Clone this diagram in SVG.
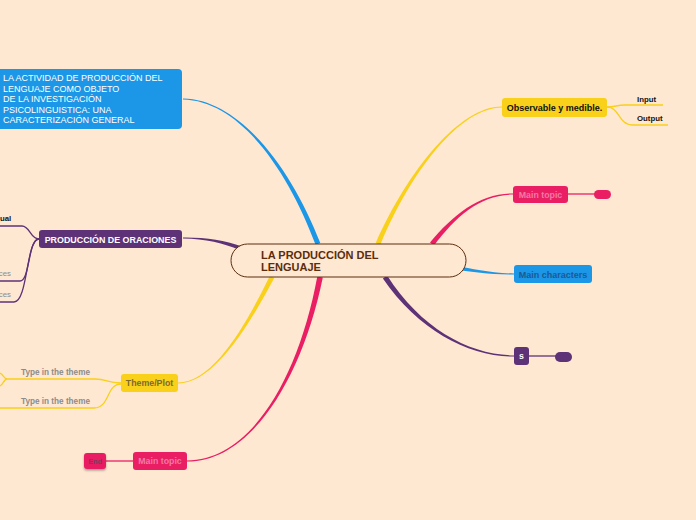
<svg xmlns="http://www.w3.org/2000/svg" width="696" height="520" viewBox="0 0 696 520">
<defs>
<style>
.t{font-family:"Liberation Sans",Arial,sans-serif;font-weight:bold}
.sub{fill:none;stroke-width:1.3}
.y{fill:#f9d01a}.ys{stroke:#f9d01a}
.p{fill:#5d3277}.ps{stroke:#5d3277}
.r{fill:#e91e63}.rs{stroke:#e91e63}
.b{fill:#1c96e6}.bs{stroke:#1c96e6}
</style>
<filter id="sh" x="-30%" y="-30%" width="160%" height="180%"><feDropShadow dx="0" dy="1.5" stdDeviation="1.2" flood-color="#000" flood-opacity="0.35"/></filter>
</defs>
<rect width="696" height="520" fill="#fee8d2"/>
<g id="connectors">
<path class="b" d="M183,98.4 C240,99.2 291.9,169.3 320.3,243.1 L315.7,244.9 C288.1,170.7 240,100.8 183,99.6 Z"/>
<path class="p" d="M183,237.5 C205,237.2 225.6,240.6 240.7,246.1 L239.3,249.9 C224.4,243.4 205,238.8 183,238.5 Z"/>
<path class="y" d="M178,382.4 C215,382.2 248.5,319.2 269.8,275.9 L274.2,278.1 C251.5,320.8 215,383.8 178,383.6 Z"/>
<path class="r" d="M187,460.4 C250,460.2 298.2,379.7 317.3,276.5 L322.8,277.5 C301.8,380.3 250,461.8 187,461.6 Z"/>
<path class="y" d="M502,107.6 C460,107.8 411.5,170.6 380.3,245 L375.7,243 C408.5,169.4 460,106.2 502,106.4 Z"/>
<path class="r" d="M513,194.6 C480,194.8 456.2,215.9 434,245.6 L430,242.4 C453.8,214.1 480,193.2 513,193.4 Z"/>
<path class="b" d="M514,274.5 C490,274.8 472,271.5 455.8,270 L456.3,266 C472,268.5 490,273.2 514,273.5 Z"/>
<path class="p" d="M514,356.6 C470,356.8 418.7,330.9 382.9,278.4 L387.1,275.6 C421.3,329.1 470,355.2 514,355.4 Z"/>
<path class="sub ps" d="M39,239 C30,239 30,226 22,226 L0,226"/>
<path class="sub ps" d="M39,239 C28,239 30,281 20,281 L0,281"/>
<path class="sub ps" d="M39,239 C26,239 28,302 14,302 L0,302"/>
<path class="sub ys" d="M121,383 C106,383 108,379 95,379 L7,379"/>
<path class="sub ys" d="M7,379 C4,379 3,374 0,373"/>
<path class="sub ys" d="M7,379 C4,379 3,385 0,386"/>
<path class="sub ys" d="M121,384 C106,384 110,408 94,408 L0,408"/>
<path class="sub ys" d="M607,107 C616,107 616,105 625,105 L663,105"/>
<path class="sub ys" d="M607,107 C620,107 618,125 633,125 L668,125"/>
<path class="sub rs" d="M568,194 L596,194"/>
<path class="sub ps" d="M529,356 L557,356"/>
<path class="sub rs" d="M106,461 L133,461"/>
</g>
<g id="center">
<rect x="231" y="244" width="235" height="33" rx="16.5" fill="#fee8d2" stroke="#5a2d0c" stroke-width="1"/>
<text class="t" x="261" y="259" font-size="11" fill="#5a2d0c">LA PRODUCCIÓN DEL</text>
<text class="t" x="261" y="271" font-size="11" fill="#5a2d0c">LENGUAJE</text>
</g>
<g id="n-actividad">
<rect x="-6" y="69" width="188" height="60" rx="4" class="b"/>
<text x="3" y="81" font-size="9" fill="#fff" font-family="Liberation Sans,Arial,sans-serif">
<tspan x="3" y="81">LA ACTIVIDAD DE PRODUCCIÓN DEL</tspan>
<tspan x="3" y="91.5">LENGUAJE COMO OBJETO</tspan>
<tspan x="3" y="102">DE LA INVESTIGACIÓN</tspan>
<tspan x="3" y="112.5">PSICOLINGUISTICA: UNA</tspan>
<tspan x="3" y="123">CARACTERIZACIÓN GENERAL</tspan>
</text>
</g>
<g id="n-oraciones">
<rect x="39" y="230" width="143" height="18" rx="3" class="p"/>
<text class="t" x="110.5" y="242.5" font-size="8.9" fill="#fff" text-anchor="middle">PRODUCCIÓN DE ORACIONES</text>
</g>
<g id="n-ual"><text class="t" x="0" y="221" font-size="7.8" fill="#111">ual</text></g>
<g id="n-ces1"><text x="11" y="276" font-size="7.8" fill="#8c8c8c" text-anchor="end" font-family="Liberation Sans,Arial,sans-serif">ces</text></g>
<g id="n-ces2"><text x="11" y="297" font-size="7.8" fill="#8c8c8c" text-anchor="end" font-family="Liberation Sans,Arial,sans-serif">ces</text></g>
<g id="n-theme">
<rect x="121" y="374" width="57" height="18" rx="3" class="y"/>
<text class="t" x="149.5" y="386" font-size="8.8" fill="#7d6a2e" text-anchor="middle">Theme/Plot</text>
</g>
<g id="n-type1"><text class="t" x="21" y="375" font-size="8.2" fill="#8c8c8c">Type in the theme</text></g>
<g id="n-type2"><text class="t" x="21" y="404" font-size="8.2" fill="#8c8c8c">Type in the theme</text></g>
<g id="n-main2">
<rect x="133" y="452" width="54" height="18" rx="3" class="r"/>
<text class="t" x="160" y="464" font-size="8.8" fill="#f47aa4" text-anchor="middle">Main topic</text>
</g>
<g id="n-end">
<rect x="84" y="453" width="22" height="16" rx="3" class="r" filter="url(#sh)"/>
<text class="t" x="95" y="464" font-size="7.2" fill="#7e3a58" text-anchor="middle">End</text>
</g>
<g id="n-observable">
<rect x="502" y="98" width="105" height="19" rx="3" class="y"/>
<text class="t" x="554.5" y="110.5" font-size="9" fill="#111" text-anchor="middle">Observable y medible.</text>
</g>
<g id="n-input"><text class="t" x="637" y="101.5" font-size="7.8" fill="#111">Input</text></g>
<g id="n-output"><text class="t" x="637" y="121" font-size="7.8" fill="#111">Output</text></g>
<g id="n-main1">
<rect x="513" y="186" width="55" height="17" rx="3" class="r"/>
<text class="t" x="540.5" y="197.5" font-size="8.8" fill="#f47aa4" text-anchor="middle">Main topic</text>
</g>
<g id="n-blob1"><rect x="594" y="190" width="17" height="9" rx="4.5" class="r"/></g>
<g id="n-characters">
<rect x="514" y="265" width="78" height="18" rx="3" class="b"/>
<text class="t" x="553" y="277.5" font-size="9" fill="#1a5a94" text-anchor="middle">Main characters</text>
</g>
<g id="n-s">
<rect x="514" y="347" width="15" height="18" rx="3" class="p"/>
<text class="t" x="521.5" y="359" font-size="8.8" fill="#fff" text-anchor="middle">s</text>
</g>
<g id="n-blob2"><rect x="555" y="352" width="17" height="10" rx="5" class="p"/></g>
</svg>
